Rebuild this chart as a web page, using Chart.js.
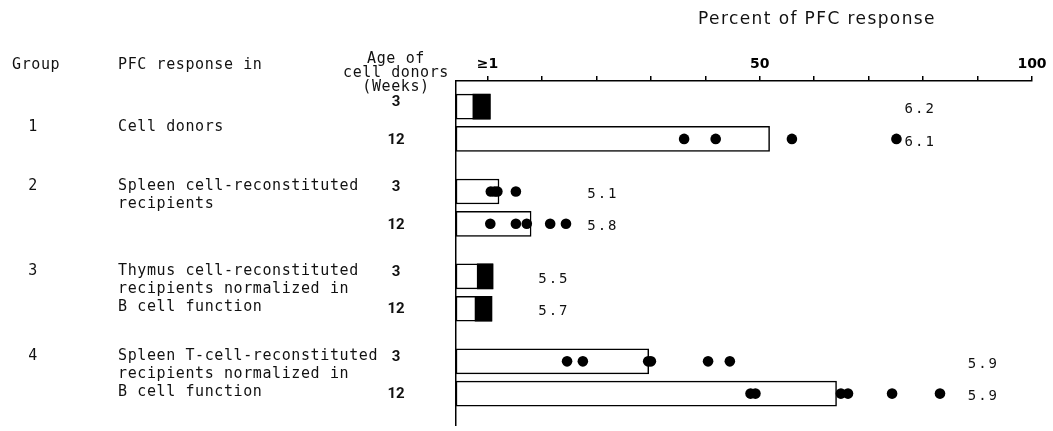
<!DOCTYPE html>
<html>
<head>
<meta charset="utf-8">
<script src="https://cdn.jsdelivr.net/npm/chart.js@4.4.1/dist/chart.umd.min.js"></script>
<style>
  html, body { margin: 0; padding: 0; background: #fff; }
  #wrap { width: 1053px; height: 431px; }
</style>
</head>
<body>
<div id="wrap"><canvas id="chartPfc" width="1053" height="431"></canvas></div>
<script>
// groups and their description text
const groupNames = ['1', '2', '3', '4'];
const groupText = [
  ['Cell donors'],
  ['Spleen cell-reconstituted', 'recipients'],
  ['Thymus cell-reconstituted', 'recipients normalized in', 'B cell function'],
  ['Spleen T-cell-reconstituted', 'recipients normalized in', 'B cell function']
];
const donorAges = ['3', '12'];

// one value per bar: group 1 (3 wk, 12 wk), group 2 (3, 12), ...
const meanPercent = [0.5, 51.8, 2.1, 8.0, 1.0, 0.8, 29.6, 64.1];
// responses piled up at >=1 % (drawn as a solid block)
const pileLow  = [-2.7, null, null, null, -1.9, -2.3, null, null];
const pileHigh = [0.5, null, null, null, 1.0, 0.8, null, null];
// single animals
const animalPercent = [
  [],
  [36.1, 41.9, 55.9, 75.1],
  [0.6, 1.3, 1.8, 5.2],
  [0.5, 5.2, 7.2, 11.5, 14.4],
  [],
  [],
  [14.6, 17.5, 29.5, 30.0, 40.5, 44.5],
  [48.3, 49.2, 64.9, 66.2, 74.3, 83.1]
];
const logPfc = ['6.2', '6.1', '5.1', '5.8', '5.5', '5.7', '5.9', '5.9'];

const tickValues = [0, 10, 20, 30, 40, 50, 60, 70, 80, 90, 100];
const tickText = { 0: '\u22651', 50: '50', 100: '100' };

const X_MIN = -5.8;

function rowPos(i) {
  let g = Math.floor(i / 2) + 1;
  return g + (i % 2 === 0 ? -0.19 : 0.19);
}

let barData = meanPercent.map((v, i) => ({ x: [X_MIN, v], y: rowPos(i) }));
let pileData = [];
pileLow.forEach((lo, i) => {
  if (lo !== null) pileData.push({ x: [lo, pileHigh[i]], y: rowPos(i) });
});
let dotData = [];
animalPercent.forEach((list, i) => {
  list.forEach(v => dotData.push({ x: v, y: rowPos(i) }));
});

const MONO = '"DejaVu Sans Mono", monospace';

const sideText = {
  id: 'sideText',
  afterDraw(chart) {
    let ctx = chart.ctx;
    let xs = chart.scales.x;
    let ys = chart.scales.y;
    ctx.save();
    ctx.fillStyle = '#111';
    ctx.textBaseline = 'middle';

    ctx.font = '17px "DejaVu Sans", sans-serif';
    ctx.letterSpacing = '1.4px';
    ctx.textAlign = 'center';
    ctx.fillText('Percent of PFC response', 817, 20);

    ctx.font = '15px ' + MONO;
    ctx.letterSpacing = '0.6px';
    ctx.textAlign = 'left';
    ctx.fillText('Group', 12, 65);
    ctx.fillText('PFC response in', 118, 65);
    ctx.textAlign = 'center';
    ctx.fillText('Age of', 396, 59);
    ctx.fillText('cell donors', 396, 73);
    ctx.fillText('(Weeks)', 396, 87);

    groupNames.forEach((name, g) => {
      let lines = groupText[g];
      let top;
      if (lines.length === 1) {
        top = ys.getPixelForValue(g + 1) + 4;
      } else {
        top = ys.getPixelForValue(rowPos(g * 2)) - 5;
      }
      ctx.font = '15px ' + MONO;
      ctx.letterSpacing = '0.6px';
      ctx.textAlign = 'center';
      ctx.fillText(name, 33, top);
      ctx.textAlign = 'left';
      lines.forEach((t, k) => ctx.fillText(t, 118, top + k * 18));
    });

    // ages
    ctx.font = 'bold 15px "Liberation Sans Narrow", Roboto, sans-serif';
    ctx.letterSpacing = '0px';
    ctx.textAlign = 'center';
    meanPercent.forEach((v, i) => {
      let dy = i % 2 === 0 ? -4 : 1;
      ctx.fillText(donorAges[i % 2], 396, ys.getPixelForValue(rowPos(i)) + dy);
    });

    // log PFC notes on the right
    const noteAnchor = [76.6, 76.6, 18.3, 18.3, 9.3, 9.3, 88.2, 88.2];
    ctx.font = '14px ' + MONO;
    ctx.letterSpacing = '2px';
    ctx.textAlign = 'left';
    logPfc.forEach((t, i) => {
      ctx.fillText(t, xs.getPixelForValue(noteAnchor[i]), ys.getPixelForValue(rowPos(i)) + 3);
    });
    ctx.restore();
  }
};

let ctx = document.getElementById('chartPfc');

let chart = new Chart(ctx, {
  type: 'bar',
  data: {
    datasets: [
      {
        type: 'scatter',
        data: dotData,
        backgroundColor: '#000',
        borderWidth: 0,
        pointRadius: 5.3,
        order: 0
      },
      {
        data: pileData,
        backgroundColor: '#000',
        borderWidth: 0,
        barThickness: 25,
        grouped: false,
        order: 1
      },
      {
        data: barData,
        backgroundColor: '#fff',
        borderColor: '#000',
        borderWidth: 1.5,
        borderSkipped: false,
        barThickness: 25,
        grouped: false,
        order: 2
      }
    ]
  },
  options: {
    indexAxis: 'y',
    responsive: false,
    animation: false,
    events: [],
    layout: { padding: { left: 456, top: 51, right: 21, bottom: 0 } },
    plugins: { legend: { display: false }, tooltip: { enabled: false } },
    scales: {
      x: {
        type: 'linear',
        position: 'top',
        min: X_MIN,
        max: 100,
        afterBuildTicks(scale) {
          scale.ticks = tickValues.map(v => ({ value: v }));
        },
        afterFit(scale) { scale.height = 30; },
        ticks: {
          autoSkip: false,
          maxRotation: 0,
          padding: 3,
          color: '#000',
          font: { family: '"DejaVu Sans", sans-serif', size: 14, weight: 'bold' },
          callback: v => tickText[v] || ''
        },
        grid: { drawOnChartArea: false, tickLength: 5, color: '#000', lineWidth: 1.5 },
        border: { display: true, color: '#000', width: 1.5 }
      },
      y: {
        type: 'linear',
        reverse: true,
        offset: false,
        min: 0.508,
        max: 4.568,
        afterFit(scale) { scale.width = 0; },
        ticks: { display: false },
        grid: { display: false },
        border: { display: true, color: '#000', width: 1.5 }
      }
    }
  },
  plugins: [sideText]
});
</script>
</body>
</html>
